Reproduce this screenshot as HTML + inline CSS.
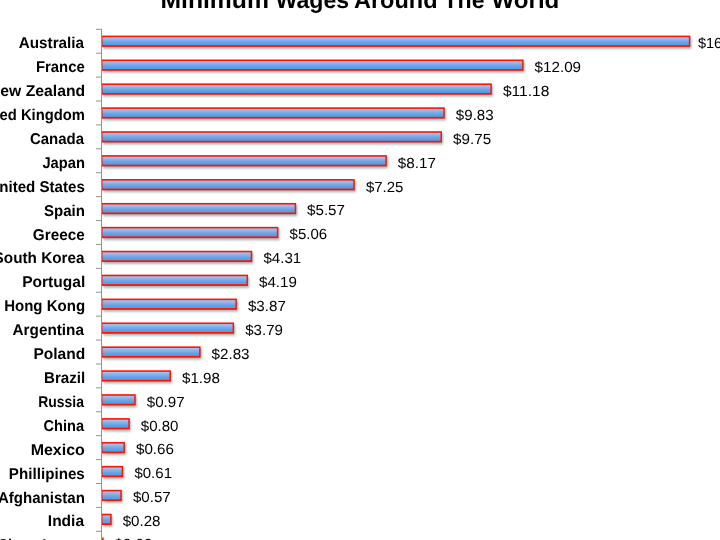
<!DOCTYPE html>
<html><head><meta charset="utf-8"><style>
html,body{margin:0;padding:0;background:#fff;overflow:hidden;}
svg{display:block;will-change:transform;}
text{text-rendering:geometricPrecision;}
.l{font-family:"Liberation Sans",sans-serif;font-weight:bold;font-size:15.6px;fill:#000;}
.v{font-family:"Liberation Sans",sans-serif;font-size:14.6px;fill:#000;}
.t{font-family:"Liberation Sans",sans-serif;font-weight:bold;font-size:23.3px;fill:#000;}
</style></head><body>
<svg width="720" height="540" viewBox="0 0 720 540">
<defs>
<linearGradient id="bg" x1="0" y1="0" x2="0" y2="1">
<stop offset="0" stop-color="#a0c6f8"/>
<stop offset="0.7" stop-color="#6b9ddf"/>
<stop offset="0.82" stop-color="#5d9de4"/>
<stop offset="1" stop-color="#45a6f5"/>
</linearGradient>
<filter id="blur" x="-5%" y="-50%" width="110%" height="200%"><feGaussianBlur stdDeviation="1.1"/></filter>
</defs>
<line x1="101.5" y1="28.8" x2="101.5" y2="560" stroke="#939393" stroke-width="1"/>
<line x1="96" y1="29.30" x2="101.5" y2="29.30" stroke="#939393" stroke-width="1"/>
<line x1="96" y1="53.20" x2="101.5" y2="53.20" stroke="#939393" stroke-width="1"/>
<line x1="96" y1="77.11" x2="101.5" y2="77.11" stroke="#939393" stroke-width="1"/>
<line x1="96" y1="101.02" x2="101.5" y2="101.02" stroke="#939393" stroke-width="1"/>
<line x1="96" y1="124.92" x2="101.5" y2="124.92" stroke="#939393" stroke-width="1"/>
<line x1="96" y1="148.83" x2="101.5" y2="148.83" stroke="#939393" stroke-width="1"/>
<line x1="96" y1="172.73" x2="101.5" y2="172.73" stroke="#939393" stroke-width="1"/>
<line x1="96" y1="196.64" x2="101.5" y2="196.64" stroke="#939393" stroke-width="1"/>
<line x1="96" y1="220.54" x2="101.5" y2="220.54" stroke="#939393" stroke-width="1"/>
<line x1="96" y1="244.45" x2="101.5" y2="244.45" stroke="#939393" stroke-width="1"/>
<line x1="96" y1="268.35" x2="101.5" y2="268.35" stroke="#939393" stroke-width="1"/>
<line x1="96" y1="292.26" x2="101.5" y2="292.26" stroke="#939393" stroke-width="1"/>
<line x1="96" y1="316.16" x2="101.5" y2="316.16" stroke="#939393" stroke-width="1"/>
<line x1="96" y1="340.06" x2="101.5" y2="340.06" stroke="#939393" stroke-width="1"/>
<line x1="96" y1="363.97" x2="101.5" y2="363.97" stroke="#939393" stroke-width="1"/>
<line x1="96" y1="387.88" x2="101.5" y2="387.88" stroke="#939393" stroke-width="1"/>
<line x1="96" y1="411.78" x2="101.5" y2="411.78" stroke="#939393" stroke-width="1"/>
<line x1="96" y1="435.69" x2="101.5" y2="435.69" stroke="#939393" stroke-width="1"/>
<line x1="96" y1="459.59" x2="101.5" y2="459.59" stroke="#939393" stroke-width="1"/>
<line x1="96" y1="483.50" x2="101.5" y2="483.50" stroke="#939393" stroke-width="1"/>
<line x1="96" y1="507.40" x2="101.5" y2="507.40" stroke="#939393" stroke-width="1"/>
<line x1="96" y1="531.30" x2="101.5" y2="531.30" stroke="#939393" stroke-width="1"/>
<line x1="96" y1="555.21" x2="101.5" y2="555.21" stroke="#939393" stroke-width="1"/>
<g fill="#98aeae" opacity="0.85" filter="url(#blur)"><rect x="103.20" y="37.60" width="588.33" height="11.30" rx="1"/><rect x="103.20" y="61.50" width="421.60" height="11.30" rx="1"/><rect x="103.20" y="85.41" width="389.86" height="11.30" rx="1"/><rect x="103.20" y="109.31" width="342.77" height="11.30" rx="1"/><rect x="103.20" y="133.22" width="339.98" height="11.30" rx="1"/><rect x="103.20" y="157.13" width="284.87" height="11.30" rx="1"/><rect x="103.20" y="181.03" width="252.78" height="11.30" rx="1"/><rect x="103.20" y="204.94" width="194.18" height="11.30" rx="1"/><rect x="103.20" y="228.84" width="176.39" height="11.30" rx="1"/><rect x="103.20" y="252.75" width="150.23" height="11.30" rx="1"/><rect x="103.20" y="276.65" width="146.05" height="11.30" rx="1"/><rect x="103.20" y="300.56" width="134.89" height="11.30" rx="1"/><rect x="103.20" y="324.46" width="132.10" height="11.30" rx="1"/><rect x="103.20" y="348.37" width="98.61" height="11.30" rx="1"/><rect x="103.20" y="372.27" width="68.96" height="11.30" rx="1"/><rect x="103.20" y="396.18" width="33.73" height="11.30" rx="1"/><rect x="103.20" y="420.08" width="27.80" height="11.30" rx="1"/><rect x="103.20" y="443.99" width="22.92" height="11.30" rx="1"/><rect x="103.20" y="467.89" width="21.18" height="11.30" rx="1"/><rect x="103.20" y="491.80" width="19.78" height="11.30" rx="1"/><rect x="103.20" y="515.70" width="9.67" height="11.30" rx="1"/><rect x="103.20" y="539.60" width="1.64" height="11.30" rx="1"/></g>
<rect x="102.00" y="35.60" width="588.33" height="11.30" fill="#ff1400"/>
<rect x="102.50" y="37.20" width="586.33" height="7.90" fill="url(#bg)"/>
<rect x="102.00" y="59.50" width="421.60" height="11.30" fill="#ff1400"/>
<rect x="102.50" y="61.10" width="419.60" height="7.90" fill="url(#bg)"/>
<rect x="102.00" y="83.41" width="389.86" height="11.30" fill="#ff1400"/>
<rect x="102.50" y="85.01" width="387.86" height="7.90" fill="url(#bg)"/>
<rect x="102.00" y="107.31" width="342.77" height="11.30" fill="#ff1400"/>
<rect x="102.50" y="108.91" width="340.77" height="7.90" fill="url(#bg)"/>
<rect x="102.00" y="131.22" width="339.98" height="11.30" fill="#ff1400"/>
<rect x="102.50" y="132.82" width="337.98" height="7.90" fill="url(#bg)"/>
<rect x="102.00" y="155.13" width="284.87" height="11.30" fill="#ff1400"/>
<rect x="102.50" y="156.73" width="282.87" height="7.90" fill="url(#bg)"/>
<rect x="102.00" y="179.03" width="252.78" height="11.30" fill="#ff1400"/>
<rect x="102.50" y="180.63" width="250.78" height="7.90" fill="url(#bg)"/>
<rect x="102.00" y="202.94" width="194.18" height="11.30" fill="#ff1400"/>
<rect x="102.50" y="204.54" width="192.18" height="7.90" fill="url(#bg)"/>
<rect x="102.00" y="226.84" width="176.39" height="11.30" fill="#ff1400"/>
<rect x="102.50" y="228.44" width="174.39" height="7.90" fill="url(#bg)"/>
<rect x="102.00" y="250.75" width="150.23" height="11.30" fill="#ff1400"/>
<rect x="102.50" y="252.35" width="148.23" height="7.90" fill="url(#bg)"/>
<rect x="102.00" y="274.65" width="146.05" height="11.30" fill="#ff1400"/>
<rect x="102.50" y="276.25" width="144.05" height="7.90" fill="url(#bg)"/>
<rect x="102.00" y="298.56" width="134.89" height="11.30" fill="#ff1400"/>
<rect x="102.50" y="300.16" width="132.89" height="7.90" fill="url(#bg)"/>
<rect x="102.00" y="322.46" width="132.10" height="11.30" fill="#ff1400"/>
<rect x="102.50" y="324.06" width="130.10" height="7.90" fill="url(#bg)"/>
<rect x="102.00" y="346.37" width="98.61" height="11.30" fill="#ff1400"/>
<rect x="102.50" y="347.97" width="96.61" height="7.90" fill="url(#bg)"/>
<rect x="102.00" y="370.27" width="68.96" height="11.30" fill="#ff1400"/>
<rect x="102.50" y="371.87" width="66.96" height="7.90" fill="url(#bg)"/>
<rect x="102.00" y="394.18" width="33.73" height="11.30" fill="#ff1400"/>
<rect x="102.50" y="395.78" width="31.73" height="7.90" fill="url(#bg)"/>
<rect x="102.00" y="418.08" width="27.80" height="11.30" fill="#ff1400"/>
<rect x="102.50" y="419.68" width="25.80" height="7.90" fill="url(#bg)"/>
<rect x="102.00" y="441.99" width="22.92" height="11.30" fill="#ff1400"/>
<rect x="102.50" y="443.59" width="20.92" height="7.90" fill="url(#bg)"/>
<rect x="102.00" y="465.89" width="21.18" height="11.30" fill="#ff1400"/>
<rect x="102.50" y="467.49" width="19.18" height="7.90" fill="url(#bg)"/>
<rect x="102.00" y="489.80" width="19.78" height="11.30" fill="#ff1400"/>
<rect x="102.50" y="491.40" width="17.78" height="7.90" fill="url(#bg)"/>
<rect x="102.00" y="513.70" width="9.67" height="11.30" fill="#ff1400"/>
<rect x="102.50" y="515.30" width="7.67" height="7.90" fill="url(#bg)"/>
<rect x="102.00" y="537.60" width="1.64" height="11.30" fill="#ff1400"/>
<text x="18.83" y="48.30" textLength="65.16" lengthAdjust="spacingAndGlyphs" class="l">Australia</text>
<text x="697.88" y="48.10" textLength="44.64" lengthAdjust="spacingAndGlyphs" class="v">$16.87</text>
<text x="35.88" y="72.20" textLength="48.84" lengthAdjust="spacingAndGlyphs" class="l">France</text>
<text x="534.58" y="72.00" textLength="46.47" lengthAdjust="spacingAndGlyphs" class="v">$12.09</text>
<text x="0.35" y="96.11" textLength="84.77" lengthAdjust="spacingAndGlyphs" class="l">ew Zealand</text>
<text x="502.95" y="95.91" textLength="46.45" lengthAdjust="spacingAndGlyphs" class="v">$11.18</text>
<text x="-0.42" y="120.02" textLength="85.33" lengthAdjust="spacingAndGlyphs" class="l">ed Kingdom</text>
<text x="455.85" y="119.81" textLength="37.77" lengthAdjust="spacingAndGlyphs" class="v">$9.83</text>
<text x="29.91" y="143.92" textLength="54.09" lengthAdjust="spacingAndGlyphs" class="l">Canada</text>
<text x="453.11" y="143.72" textLength="37.98" lengthAdjust="spacingAndGlyphs" class="v">$9.75</text>
<text x="42.42" y="167.83" textLength="42.53" lengthAdjust="spacingAndGlyphs" class="l">Japan</text>
<text x="397.82" y="167.63" textLength="38.07" lengthAdjust="spacingAndGlyphs" class="v">$8.17</text>
<text x="-0.78" y="191.73" textLength="85.57" lengthAdjust="spacingAndGlyphs" class="l">nited States</text>
<text x="365.92" y="191.53" textLength="37.58" lengthAdjust="spacingAndGlyphs" class="v">$7.25</text>
<text x="44.06" y="215.64" textLength="40.95" lengthAdjust="spacingAndGlyphs" class="l">Spain</text>
<text x="307.01" y="215.44" textLength="37.99" lengthAdjust="spacingAndGlyphs" class="v">$5.57</text>
<text x="32.85" y="239.54" textLength="51.87" lengthAdjust="spacingAndGlyphs" class="l">Greece</text>
<text x="289.59" y="239.34" textLength="37.58" lengthAdjust="spacingAndGlyphs" class="v">$5.06</text>
<text x="-6.39" y="263.45" textLength="90.79" lengthAdjust="spacingAndGlyphs" class="l">South Korea</text>
<text x="263.40" y="263.25" textLength="37.80" lengthAdjust="spacingAndGlyphs" class="v">$4.31</text>
<text x="22.20" y="287.35" textLength="63.03" lengthAdjust="spacingAndGlyphs" class="l">Portugal</text>
<text x="259.04" y="287.15" textLength="37.80" lengthAdjust="spacingAndGlyphs" class="v">$4.19</text>
<text x="4.16" y="311.26" textLength="80.90" lengthAdjust="spacingAndGlyphs" class="l">Hong Kong</text>
<text x="247.95" y="311.06" textLength="37.93" lengthAdjust="spacingAndGlyphs" class="v">$3.87</text>
<text x="12.54" y="335.16" textLength="71.46" lengthAdjust="spacingAndGlyphs" class="l">Argentina</text>
<text x="245.22" y="334.96" textLength="37.70" lengthAdjust="spacingAndGlyphs" class="v">$3.79</text>
<text x="33.43" y="359.06" textLength="51.78" lengthAdjust="spacingAndGlyphs" class="l">Poland</text>
<text x="211.56" y="358.87" textLength="38.02" lengthAdjust="spacingAndGlyphs" class="v">$2.83</text>
<text x="44.06" y="382.97" textLength="41.13" lengthAdjust="spacingAndGlyphs" class="l">Brazil</text>
<text x="181.99" y="382.77" textLength="37.97" lengthAdjust="spacingAndGlyphs" class="v">$1.98</text>
<text x="38.22" y="406.88" textLength="45.77" lengthAdjust="spacingAndGlyphs" class="l">Russia</text>
<text x="146.76" y="406.68" textLength="37.87" lengthAdjust="spacingAndGlyphs" class="v">$0.97</text>
<text x="43.57" y="430.78" textLength="40.48" lengthAdjust="spacingAndGlyphs" class="l">China</text>
<text x="140.78" y="430.58" textLength="37.75" lengthAdjust="spacingAndGlyphs" class="v">$0.80</text>
<text x="30.66" y="454.69" textLength="54.21" lengthAdjust="spacingAndGlyphs" class="l">Mexico</text>
<text x="136.00" y="454.49" textLength="37.97" lengthAdjust="spacingAndGlyphs" class="v">$0.66</text>
<text x="8.86" y="478.59" textLength="75.96" lengthAdjust="spacingAndGlyphs" class="l">Phillipines</text>
<text x="134.41" y="478.39" textLength="37.61" lengthAdjust="spacingAndGlyphs" class="v">$0.61</text>
<text x="-2.07" y="502.50" textLength="86.97" lengthAdjust="spacingAndGlyphs" class="l">Afghanistan</text>
<text x="132.91" y="502.30" textLength="37.86" lengthAdjust="spacingAndGlyphs" class="v">$0.57</text>
<text x="47.83" y="526.40" textLength="36.22" lengthAdjust="spacingAndGlyphs" class="l">India</text>
<text x="122.66" y="526.20" textLength="37.79" lengthAdjust="spacingAndGlyphs" class="v">$0.28</text>
<text x="-1.59" y="550.30" textLength="85.99" lengthAdjust="spacingAndGlyphs" class="l">Sierra Leone</text>
<text x="114.60" y="548.80" textLength="37.79" lengthAdjust="spacingAndGlyphs" class="v">$0.03</text>
<text x="160.41" y="7.8" textLength="108.56" lengthAdjust="spacingAndGlyphs" class="t">Minimum</text>
<text x="275.55" y="7.8" textLength="73.65" lengthAdjust="spacingAndGlyphs" class="t">Wages</text>
<text x="354.00" y="7.8" textLength="83.51" lengthAdjust="spacingAndGlyphs" class="t">Around</text>
<text x="443.44" y="7.8" textLength="41.05" lengthAdjust="spacingAndGlyphs" class="t">The</text>
<text x="491.40" y="7.8" textLength="67.97" lengthAdjust="spacingAndGlyphs" class="t">World</text>
</svg>
</body></html>
